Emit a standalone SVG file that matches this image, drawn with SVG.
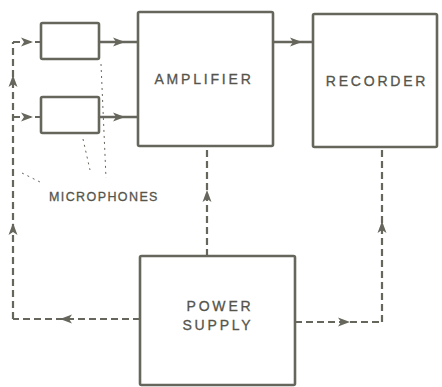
<svg xmlns="http://www.w3.org/2000/svg" width="442" height="387" viewBox="0 0 442 387">
<style>
.box{fill:none;stroke:#66665c;stroke-width:2.6;stroke-linejoin:round}
.solid{fill:none;stroke:#66665c;stroke-width:2.4}
.dash{fill:none;stroke:#66665c;stroke-width:2.2;stroke-dasharray:7 4}
.dot{fill:none;stroke:#66665c;stroke-width:1;stroke-dasharray:2 4}
.lbl{font-family:"Liberation Sans",Arial,sans-serif;font-size:14px;fill:#55554b;stroke:#55554b;stroke-width:0.3;letter-spacing:2.8px;text-anchor:middle}
.mic{font-family:"Liberation Sans",Arial,sans-serif;font-size:12.5px;fill:#55554b;stroke:#55554b;stroke-width:0.3;letter-spacing:1.4px}
</style>
<defs>
<marker id="ah" viewBox="-12 -6 14 12" markerWidth="14" markerHeight="12" refX="0" refY="0" orient="auto" markerUnits="userSpaceOnUse">
<path d="M-11,-4.5 L1,0 L-11,4.5 L-8,0 Z" fill="#66665c"/>
</marker>
</defs>
<g id="connectors">
<path class="solid" d="M99,42 L124,42 L138,42" marker-mid="url(#ah)"/>
<path class="solid" d="M99,117 L124,117 L138,117" marker-mid="url(#ah)"/>
<path class="solid" d="M273,42 L301,42 L313,42" marker-mid="url(#ah)"/>
<path class="dash" d="M207,256 L207,191 L207,146" marker-mid="url(#ah)"/>
<path class="dash" d="M295,322 L349,322 L382,322" marker-mid="url(#ah)"/>
<path class="dash" d="M382,322 L382,222 L382,147" marker-mid="url(#ah)"/>
<path class="dash" d="M140,319 L61,319 L13,319" marker-mid="url(#ah)"/>
<path class="dash" d="M13,319 L13,224 L13,76 L13,42" marker-mid="url(#ah)"/>
<path class="dash" d="M13,42 L32,42 L41,42" marker-mid="url(#ah)"/>
<path class="dash" d="M13,117 L32,117 L41,117" marker-mid="url(#ah)"/>
<path class="dot" d="M101,64 L106,178"/>
<path class="dot" d="M83,139 L90,170"/>
<path class="dot" d="M22,173 L40,182"/>
</g>
<g id="mic1"><rect class="box" x="41" y="23" width="58" height="36" rx="1.5"/></g>
<g id="mic2"><rect class="box" x="41" y="97" width="58" height="36" rx="1.5"/></g>
<g id="amplifier"><rect class="box" x="138" y="12" width="135" height="134" rx="1.5"/><text class="lbl" x="204" y="84">AMPLIFIER</text></g>
<g id="recorder"><rect class="box" x="313" y="14" width="124" height="133" rx="1.5"/><text class="lbl" x="377" y="86">RECORDER</text></g>
<g id="power"><rect class="box" x="140" y="256" width="155" height="129" rx="1.5"/><text class="lbl" x="220" y="311">POWER</text><text class="lbl" x="218" y="330">SUPPLY</text></g>
<g id="microphones-label"><text class="mic" x="49" y="201">MICROPHONES</text></g>
</svg>
